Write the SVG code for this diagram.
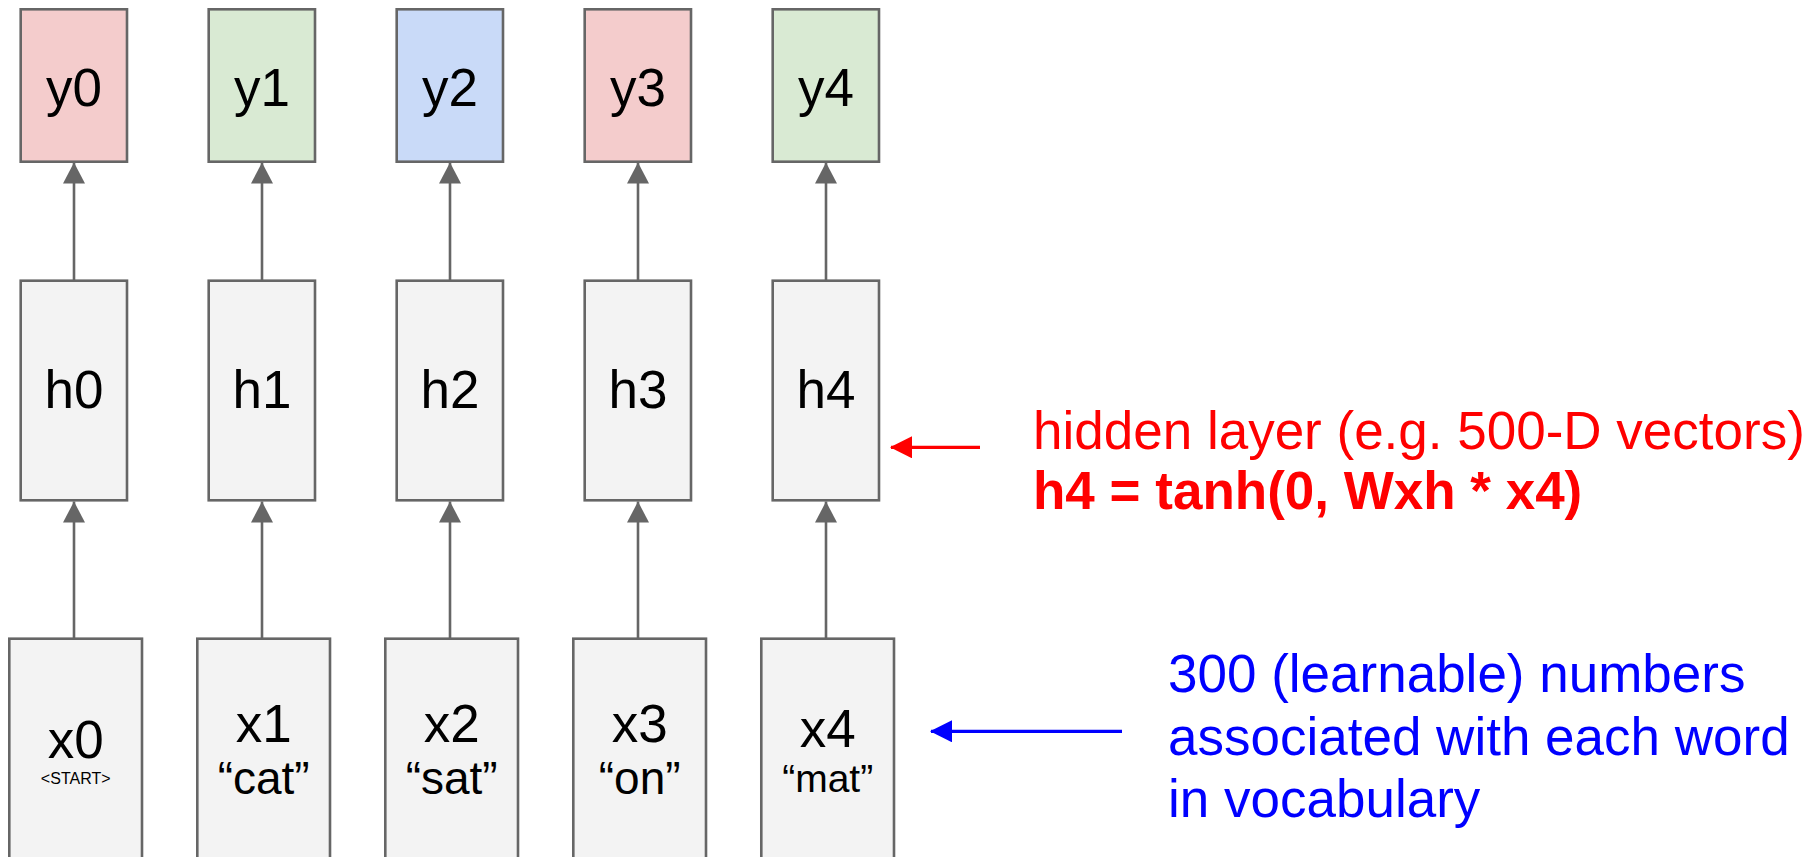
<svg xmlns="http://www.w3.org/2000/svg" width="1813" height="857" viewBox="0 0 1813 857">
<defs>
<style>
.box{stroke:#666666;stroke-width:2.6;}
.gray{fill:#f3f3f3;}
.pink{fill:#f4cccc;}
.green{fill:#d9ead3;}
.blue{fill:#c9daf8;}
text{font-family:"Liberation Sans",Arial,sans-serif;fill:#000000;}
.lbl{font-size:53px;text-anchor:middle;}
.sub{font-size:46px;text-anchor:middle;}
.conn{stroke:#666666;stroke-width:2.6;fill:none;marker-end:url(#ah);}
.red{fill:#ff0000;font-size:53px;}
.bl{fill:#0000ff;font-size:53px;}
</style>
<marker id="ah" viewBox="0 0 22 22" markerWidth="22" markerHeight="22" refX="21" refY="11" orient="auto" markerUnits="userSpaceOnUse">
<path d="M0,0 L21,11 L0,22 z" fill="#666666"/>
</marker>
<marker id="ahr" viewBox="0 0 22 22" markerWidth="22" markerHeight="22" refX="21" refY="11" orient="auto" markerUnits="userSpaceOnUse">
<path d="M0,0 L22,11 L0,22 z" fill="#ff0000"/>
</marker>
<marker id="ahb" viewBox="0 0 22 22" markerWidth="22" markerHeight="22" refX="21" refY="11" orient="auto" markerUnits="userSpaceOnUse">
<path d="M0,0 L22,11 L0,22 z" fill="#0000ff"/>
</marker>
</defs>
<rect width="1813" height="857" fill="#ffffff"/>

<g id="connectors">
<line class="conn" x1="74" y1="280.7" x2="74" y2="162.5"/>
<line class="conn" x1="262" y1="280.7" x2="262" y2="162.5"/>
<line class="conn" x1="450" y1="280.7" x2="450" y2="162.5"/>
<line class="conn" x1="638" y1="280.7" x2="638" y2="162.5"/>
<line class="conn" x1="826" y1="280.7" x2="826" y2="162.5"/>
<line class="conn" x1="74" y1="638.7" x2="74" y2="501.5"/>
<line class="conn" x1="262" y1="638.7" x2="262" y2="501.5"/>
<line class="conn" x1="450" y1="638.7" x2="450" y2="501.5"/>
<line class="conn" x1="638" y1="638.7" x2="638" y2="501.5"/>
<line class="conn" x1="826" y1="638.7" x2="826" y2="501.5"/>
<line x1="980" y1="447.3" x2="891" y2="447.3" stroke="#ff0000" stroke-width="3.3" marker-end="url(#ahr)"/>
<line x1="1122" y1="731.3" x2="931" y2="731.3" stroke="#0000ff" stroke-width="3.3" marker-end="url(#ahb)"/>
</g>

<g id="y0"><rect class="box pink" x="20.7" y="9.3" width="106.3" height="152.4"/><text class="lbl" x="73.9" y="106">y0</text></g>
<g id="y1"><rect class="box green" x="208.7" y="9.3" width="106.3" height="152.4"/><text class="lbl" x="261.9" y="106">y1</text></g>
<g id="y2"><rect class="box blue" x="396.7" y="9.3" width="106.3" height="152.4"/><text class="lbl" x="449.9" y="106">y2</text></g>
<g id="y3"><rect class="box pink" x="584.7" y="9.3" width="106.3" height="152.4"/><text class="lbl" x="637.9" y="106">y3</text></g>
<g id="y4"><rect class="box green" x="772.7" y="9.3" width="106.3" height="152.4"/><text class="lbl" x="825.9" y="106">y4</text></g>

<g id="h0"><rect class="box gray" x="20.7" y="280.7" width="106.3" height="219.6"/><text class="lbl" x="73.9" y="408">h0</text></g>
<g id="h1"><rect class="box gray" x="208.7" y="280.7" width="106.3" height="219.6"/><text class="lbl" x="261.9" y="408">h1</text></g>
<g id="h2"><rect class="box gray" x="396.7" y="280.7" width="106.3" height="219.6"/><text class="lbl" x="449.9" y="408">h2</text></g>
<g id="h3"><rect class="box gray" x="584.7" y="280.7" width="106.3" height="219.6"/><text class="lbl" x="637.9" y="408">h3</text></g>
<g id="h4"><rect class="box gray" x="772.7" y="280.7" width="106.3" height="219.6"/><text class="lbl" x="825.9" y="408">h4</text></g>

<g id="x0"><rect class="box gray" x="9.3" y="638.7" width="132.7" height="240"/><text class="lbl" x="75.7" y="758">x0</text><text x="75.7" y="784" font-size="16" text-anchor="middle">&lt;START&gt;</text></g>
<g id="x1"><rect class="box gray" x="197.3" y="638.7" width="132.7" height="240"/><text class="lbl" x="263.7" y="742">x1</text><text class="sub" x="263.7" y="794">“cat”</text></g>
<g id="x2"><rect class="box gray" x="385.3" y="638.7" width="132.7" height="240"/><text class="lbl" x="451.7" y="742">x2</text><text class="sub" x="451.7" y="794">“sat”</text></g>
<g id="x3"><rect class="box gray" x="573.3" y="638.7" width="132.7" height="240"/><text class="lbl" x="639.7" y="742">x3</text><text class="sub" x="639.7" y="794">“on”</text></g>
<g id="x4"><rect class="box gray" x="761.3" y="638.7" width="132.7" height="240"/><text class="lbl" x="827.7" y="747">x4</text><text x="827.7" y="792" font-size="39" text-anchor="middle">“mat”</text></g>

<g id="hidden-note">
<text class="red" x="1033" y="449.3">hidden layer (e.g. 500-D vectors)</text>
<text class="red" x="1033" y="509.3" font-weight="bold">h4 = tanh(0, Wxh * x4)</text>
</g>
<g id="embedding-note">
<text class="bl" x="1168" y="691.7">300 (learnable) numbers</text>
<text class="bl" x="1168" y="755">associated with each word</text>
<text class="bl" x="1168" y="816.7">in vocabulary</text>
</g>
</svg>
